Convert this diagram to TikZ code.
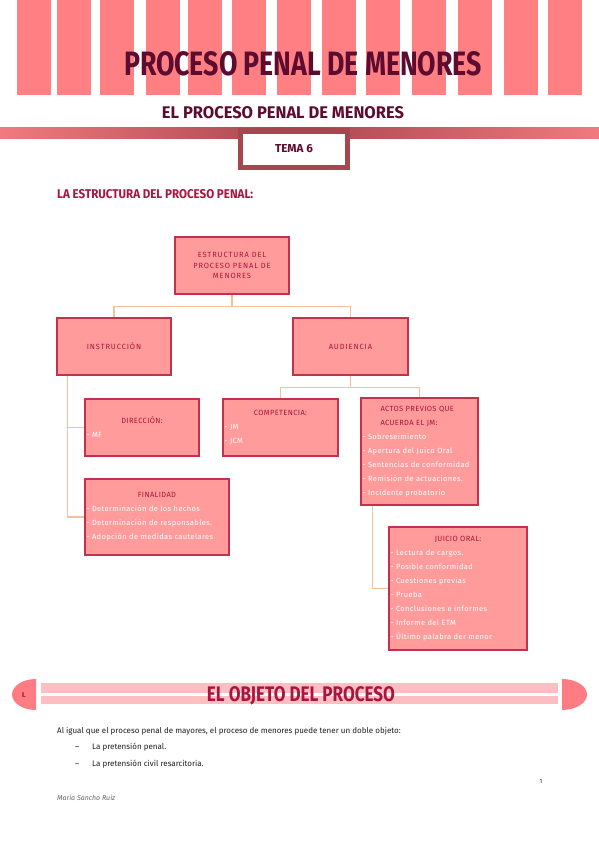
\documentclass[tikz,border=0pt]{standalone}
\usepackage{fontspec}
\usepackage{graphicx}
\setmainfont{Fira Sans}
\newfontfamily\chartfont[LetterSpace=5]{Fira Sans}
\newfontfamily\chartcaps[LetterSpace=12]{Fira Sans}
\usetikzlibrary{positioning, calc}

\definecolor{stripecol}{HTML}{FF7F82}
\definecolor{maroon}{HTML}{5E0B30}
\definecolor{crimson}{HTML}{A8163E}
\definecolor{bandpink}{HTML}{F07A80}
\definecolor{banddark}{HTML}{A8464F}
\definecolor{boxfill}{HTML}{FF9B9B}
\definecolor{boxedge}{HTML}{C4314F}
\definecolor{linkcol}{HTML}{F9BE9C}
\definecolor{barpink}{HTML}{FFBFC2}
\definecolor{capcol}{HTML}{FF7D82}
\definecolor{bodytext}{HTML}{1E1E1E}

\newcommand{\fitcaps}[3]{\resizebox{#1}{#2}{\bfseries #3}}
\newcommand{\boxtitle}[1]{{\centering\color{crimson}#1\par}}

\begin{document}
\begin{tikzpicture}[x=1pt, y=-1pt,
        chartbox/.style={rectangle, draw=boxedge, fill=boxfill, line width=1.2pt, inner sep=1.5pt, text=white, font={\chartfont\fontsize{7.5}{14}\selectfont}},
        capsbox/.style={chartbox, text=crimson, align=center, font={\chartcaps\fontsize{7.5}{10.5}\selectfont}},
        listbox/.style={chartbox, align=left},
        link/.style={draw=linkcol, line width=1.3pt},
        bodyline/.style={anchor=base west, inner sep=0, text=bodytext, font={\fontsize{8}{9.5}\selectfont}}
    ]
    \fill[white] (0,0) rectangle (599,848);
    \useasboundingbox (0,0) rectangle (599,848);

    % header stripes and titles
    \foreach \sx in {17,57,100,146,188,232,277,322,366,412,458,504,548}
        \fill[stripecol] (\sx,0) rectangle ++(34,95);
    \node[inner sep=0, text=maroon] (title) at (303,64) {\fitcaps{358pt}{24pt}{PROCESO PENAL DE MENORES}};
    \node[inner sep=0, text=maroon] (subtitle) at (283,113) {\fitcaps{242pt}{12pt}{EL PROCESO PENAL DE MENORES}};
    \shade[left color=bandpink, right color=banddark] (0,128) rectangle (294,138);
    \shade[left color=banddark, right color=bandpink] (294,128) rectangle (599,138);
    \node[draw=banddark, fill=white, line width=5pt, minimum width=107pt, minimum height=36pt, text=maroon] (tema) at (294,149) {\fitcaps{38pt}{8pt}{TEMA 6}};

    \node[anchor=west, inner sep=0, text=crimson] (heading) at (57,194.5) {\fitcaps{196pt}{9pt}{LA ESTRUCTURA DEL PROCESO PENAL:}};

    % chart
    \node[capsbox, minimum width=114pt, minimum height=57pt] (root) at (232,265.5) {ESTRUCTURA DEL\\PROCESO PENAL DE\\MENORES};
    \node[capsbox, minimum width=114pt, minimum height=57pt] (instr) at (114,346.5) {INSTRUCCIÓN};
    \node[capsbox, minimum width=115pt, minimum height=57pt] (aud) at (350.5,346.5) {AUDIENCIA};
    \node[listbox, text width=111pt, minimum height=57pt] (dir) at (142,427.5) {\boxtitle{DIRECCIÓN:}- MF};
    \node[listbox, text width=112pt, minimum height=57pt] (comp) at (280.5,427.5) {\boxtitle{COMPETENCIA:}- JM\\- JCM};
    \node[listbox, text width=141pt, minimum height=76pt] (fin) at (157,517) {\boxtitle{FINALIDAD}- Determinación de los hechos\\- Determinación de responsables.\\- Adopción de medidas cautelares};
    \node[listbox, text width=114pt, minimum height=107pt] (actos) at (419.5,451.5) {{\leftskip=18pt\color{crimson}ACTOS PREVIOS QUE\\ACUERDA EL JM:\par}- Sobreseimiento\\- Apertura del Juico Oral\\- Sentencias de conformidad\\- Remisión de actuaciones.\\- Incidente probatorio};
    \node[listbox, text width=135pt, minimum height=123pt] (juicio) at (458,588.5) {\boxtitle{JUICIO ORAL:}- Lectura de cargos.\\- Posible conformidad\\- Cuestiones previas\\- Prueba\\- Conclusiones e informes\\- Informe del ETM\\- Último palabra der menor};

    \draw[link] (root.south) -- ++(0,12) -| (instr.north);
    \draw[link] (root.south) -- ++(0,12) -| (aud.north);
    \draw[link] (aud.south) -- ++(0,12) -| (comp.north);
    \draw[link] (aud.south) -- ++(0,12) -| (actos.north);
    \draw[link] ([xshift=11pt]instr.south west) |- (dir.west);
    \draw[link] ([xshift=11pt]instr.south west) |- (fin.west);
    \draw[link] ([xshift=12pt]actos.south west) |- (juicio.west);

    % section header
    \fill[capcol] (36,710) arc[start angle=90, end angle=270, x radius=24, y radius=15.5] -- cycle;
    \fill[capcol] (562,710) arc[start angle=90, end angle=-90, x radius=25, y radius=15.5] -- cycle;
    \fill[barpink] (41,683) rectangle (558,693);
    \fill[barpink] (41,696) rectangle (558,704);
    \node[inner sep=0, text=crimson!80!black, font={\bfseries\fontsize{7}{8}\selectfont}] (secnum) at (24,695.5) {I.};
    \node[inner sep=0, text=crimson] (section) at (301,695.5) {\fitcaps{188pt}{15pt}{EL OBJETO DEL PROCESO}};

    % body text
    \node[bodyline] (intro) at (57,733) {Al igual que el proceso penal de mayores, el proceso de menores puede tener un doble objeto:};
    \node[bodyline] (dash1) at (75,749) {–};
    \node[bodyline] (item1) at (92,749) {La pretensión penal.};
    \node[bodyline] (dash2) at (75,766) {–};
    \node[bodyline] (item2) at (92,766) {La pretensión civil resarcitoria.};
    \node[inner sep=0, text=bodytext, font={\fontsize{6}{7}\selectfont}] (pagenum) at (541,781) {1};
    \node[anchor=base west, inner sep=0, text=gray!80!black, font={\itshape\fontsize{7}{8}\selectfont}] (author) at (57,800) {María Sancho Ruiz};
\end{tikzpicture}
\end{document}
